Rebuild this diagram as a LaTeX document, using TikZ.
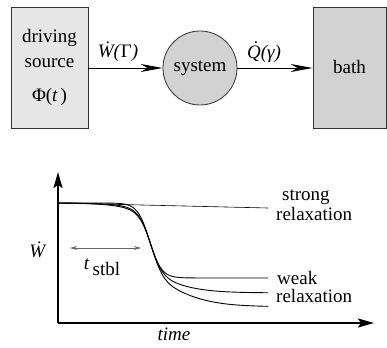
\documentclass[tikz,border=0pt]{standalone}
\usepackage{fontspec}
\setmainfont{Liberation Serif}
\usetikzlibrary{arrows.meta}
\definecolor{lightbox}{HTML}{E6E6E6}
\definecolor{midgray}{HTML}{D2D2D2}
\tikzset{
  boxstyle/.style={draw=black!80, line width=0.8pt, inner sep=0pt, font=\fontsize{19}{20}\selectfont},
  lbl/.style={font=\fontsize{19}{20}\selectfont, inner sep=0pt},
  flow/.style={line width=0.9pt, -{Stealth[length=22pt,width=8pt,inset=7pt]}},
  axis/.style={line width=2pt, -{Stealth[length=16pt,width=9pt,inset=3pt]}},
  curve/.style={line width=0.9pt},
  declare function={sg(\u)=1/(1+exp(min(9,max(-9,-\u))));}
}
\begin{document}
\begin{tikzpicture}[x=1pt,y=-1pt]
\useasboundingbox (0,0) rectangle (387,347);
% top diagram
\node[boxstyle, fill=lightbox, minimum width=77pt, minimum height=121pt] (src) at (49.5,67.5)
  {\raisebox{3pt}{\renewcommand{\arraystretch}{1.25}\begin{tabular}{@{}c@{}}driving\\source\\[9pt]Φ(\textit{t\,})\end{tabular}}};
\node[boxstyle, fill=midgray, circle, minimum size=74pt] (sys) at (200,68) {system};
\node[boxstyle, fill=midgray, minimum width=73pt, minimum height=121pt] (bath) at (349.5,67.5) {bath};
\draw[flow] (src.east |- sys.center) -- (sys.west);
\draw[flow] (sys.east) -- (bath.west |- sys.center);
\node[lbl] (wl) at (118,52) {\textit{Ẇ(}Γ\textit{)}};
\node[lbl] (ql) at (264,54) {\textit{Q(γ)}};
\fill ([xshift=9pt,yshift=3pt]ql.north west) circle (1.1pt);
% graph
\coordinate (orig) at (58,323);
\coordinate (ytop) at (58,172);
\coordinate (xend) at (374,323);
\draw[axis] (orig) -- (ytop);
\draw[axis] (orig) -- (xend);
\draw[line width=0.6pt] (58,203) -- (268,208);
\draw[curve] plot[domain=58:268, samples=160] (\x,{203+75*sg((\x-149.5)/6)});
\draw[curve] plot[domain=58:268, samples=160] (\x,{203+65*sg((\x-150.5)/6)+25*sg((\x-165)/20)-25*sg((58-165)/20)});
\draw[curve] plot[domain=58:268, samples=160] (\x,{203+65*sg((\x-151.5)/6)+39*sg((\x-170)/22)-39*sg((58-170)/22)});
\coordinate (ta) at (70,248);
\coordinate (tb) at (141,248);
\draw[black!60, line width=0.7pt, {Stealth[length=7pt,width=4pt]}-{Stealth[length=7pt,width=4pt]}] (ta) -- (tb);
\node[lbl, anchor=base] at (102,269) {\textit{t}\,\raisebox{-6pt}{stbl}};
\node[lbl] at (38,250) {\textit{Ẇ}};
\node[lbl] at (174,334) {\textit{time}};
\node[lbl, anchor=west] at (282,197) {strong};
\node[lbl, anchor=west] at (276,214) {relaxation};
\node[lbl, anchor=west] at (277,278) {weak};
\node[lbl, anchor=west] at (276,296) {relaxation};
\end{tikzpicture}
\end{document}
